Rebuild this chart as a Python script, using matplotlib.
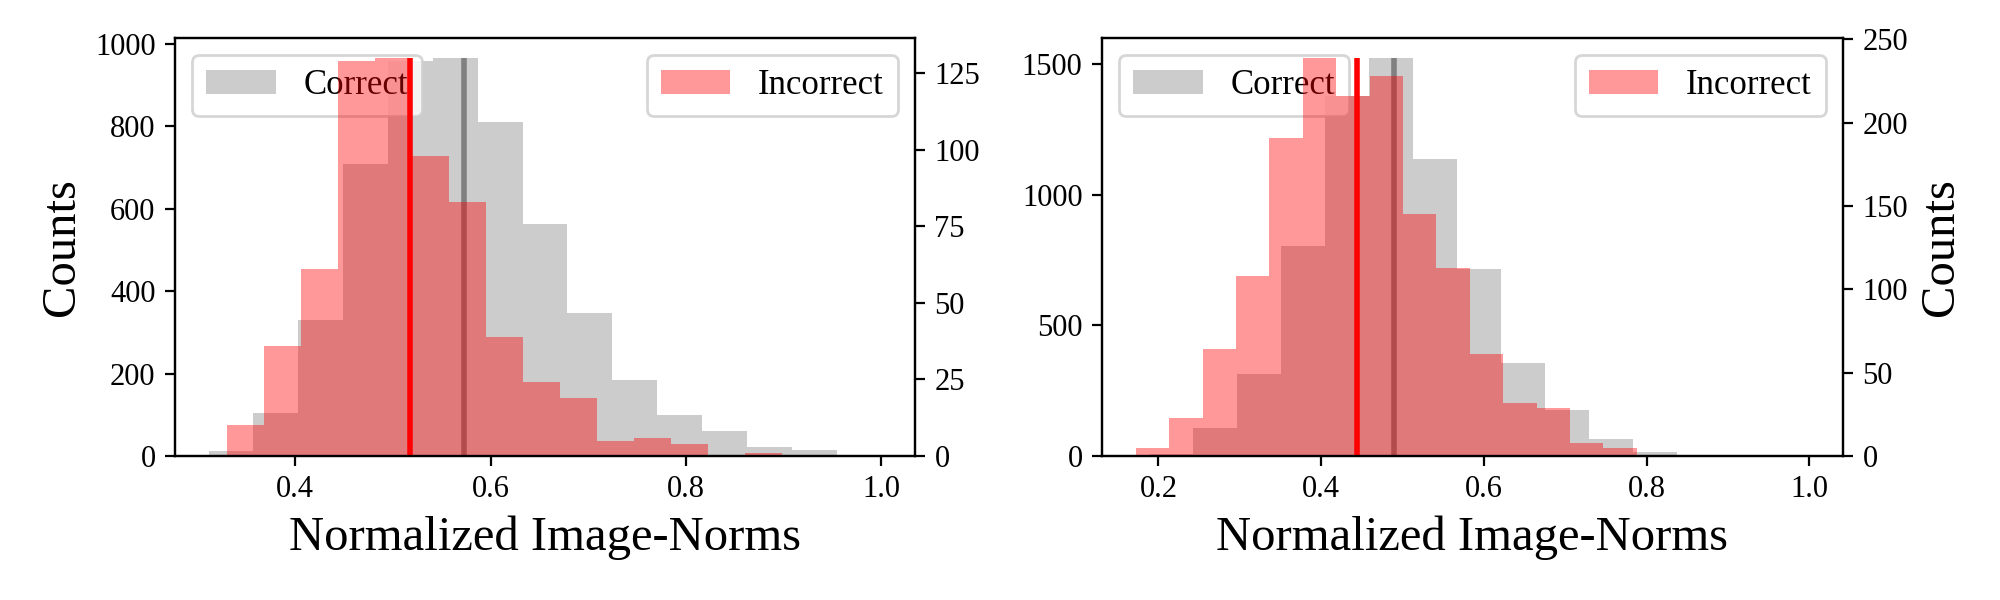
import numpy as np
import matplotlib
matplotlib.use("Agg")
import matplotlib.pyplot as plt

plt.rcParams["font.family"] = ["Liberation Serif", "DejaVu Serif"]

# left panel: bin range (min, max) and per-bin counts, 15 bins each
left_correct_range = (0.3115, 1.0)
left_correct_counts = [11, 104, 331, 710, 960, 967, 812, 563, 348, 185, 99, 60, 21, 14, 1]
left_incorrect_range = (0.330, 0.898)
left_incorrect_counts = [10, 36, 61, 129, 130, 98, 83, 39, 24, 19, 5, 6, 4, 0, 1]
left_means = (0.573, 0.5175)  # correct, incorrect

# right panel
right_correct_range = (0.189, 1.0)
right_correct_counts = [9, 109, 314, 803, 1378, 1524, 1137, 717, 356, 176, 64, 14, 5, 1, 1]
right_incorrect_range = (0.172, 0.788)
right_incorrect_counts = [5, 23, 64, 108, 191, 239, 216, 228, 145, 113, 61, 32, 29, 8, 5]
right_means = (0.489, 0.4436)

left_yticks = [0, 25, 50, 75, 100, 125]
right_yticks = [0, 50, 100, 150, 200, 250]


def draw(ax, rng, counts, color, mean, label, lcolor):
    edges = np.linspace(rng[0], rng[1], len(counts) + 1)
    ax.hist(edges[:-1], bins=edges, weights=counts, color=color, alpha=0.4, label=label)
    ax.vlines(mean, 0, max(counts), color=lcolor, lw=2)


fig = plt.figure(figsize=(10, 3), dpi=200)
ax1 = fig.add_axes([0.0875, 0.24, 0.37, 0.697])
ax3 = fig.add_axes([0.551, 0.24, 0.3705, 0.697])

panels = [
    (ax1, left_correct_range, left_correct_counts, left_incorrect_range,
     left_incorrect_counts, left_means, left_yticks),
    (ax3, right_correct_range, right_correct_counts, right_incorrect_range,
     right_incorrect_counts, right_means, right_yticks),
]

for i, (ax, cr, cc, ir, ic, means, rticks) in enumerate(panels):
    draw(ax, cr, cc, "gray", means[0], "Correct", "gray")
    tw = ax.twinx()
    draw(tw, ir, ic, "red", means[1], "Incorrect", "red")
    tw.set_yticks(rticks)
    ax.legend(loc="upper left", fontsize=12.5)
    tw.legend(loc="upper right", fontsize=12.5)
    ax.set_xticks([0.2, 0.4, 0.6, 0.8, 1.0] if i else [0.4, 0.6, 0.8, 1.0])
    ax.tick_params(labelsize=11)
    tw.tick_params(labelsize=11)
    ax.set_xlabel("Normalized Image-Norms", fontsize=17.5)
    if i == 0:
        ax.set_ylabel("Counts", fontsize=17.5)
    else:
        tw.set_ylabel("Counts", fontsize=17.5)

fig.savefig("out.png")
